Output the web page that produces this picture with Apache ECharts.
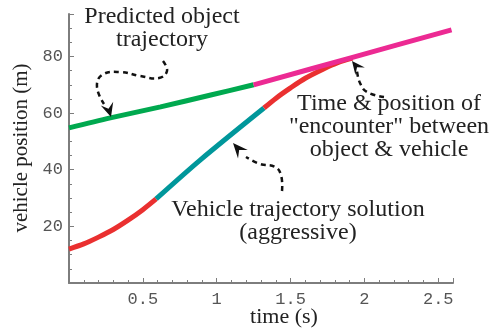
<!DOCTYPE html>
<html>
<head>
<meta charset="utf-8">
<script src="https://cdn.jsdelivr.net/npm/echarts@6/dist/echarts.min.js"></script>
<style>html,body{margin:0;padding:0;background:#fff;}#c{width:499px;height:333px;}</style>
</head>
<body>
<div id="c"></div>
<script>
// Predicted object trajectory (green part, then magenta part)
var objGreenT = [0, 0.28, 0.62, 0.96, 1.25];
var objGreenP = [54.8, 58.3, 62.2, 66.4, 70.0];
var objMagentaT = [1.25, 1.92, 2.59];
var objMagentaP = [70.0, 79.7, 89.4];
// Vehicle trajectory solution (red, teal, red)
var vehRed1T = [0, 0.1, 0.2, 0.3, 0.4, 0.5, 0.59];
var vehRed1P = [12.0, 13.8, 16.2, 18.9, 22.2, 25.9, 29.7];
var vehTealT = [0.59, 0.89, 1.32];
var vehTealP = [29.7, 43.5, 61.8];
var vehRed2T = [1.32, 1.4, 1.5, 1.6, 1.72, 1.82, 1.92];
var vehRed2P = [61.8, 65.2, 68.9, 72.3, 75.5, 77.8, 79.4];
// Axis ticks
var xTickLabels = ['0.5', '1', '1.5', '2', '2.5'];
var yTickLabels = ['20', '40', '60', '80'];

function pairs(t, p) { return t.map(function (v, i) { return [v, p[i]]; }); }

var GREEN = '#00a94f', MAGENTA = '#ec2a93', TEAL = '#00979b', RED = '#ea3030';
var AXIS = '#7d7d7d';
var SERIF = '"Liberation Serif", "Times New Roman", serif';
var MONO = '"Liberation Mono", "Courier New", monospace';

function lineSeries(t, p, color) {
  return {
    type: 'line', data: pairs(t, p), smooth: 0.3, showSymbol: false, symbol: 'none',
    lineStyle: { color: color, width: 5, cap: 'butt' }, silent: true, clip: false
  };
}

function arrowHead(tip, dir, L, W) {
  var n = Math.sqrt(dir[0] * dir[0] + dir[1] * dir[1]);
  var d = [dir[0] / n, dir[1] / n];
  var q = [-d[1], d[0]];
  var bx = tip[0] - L * d[0], by = tip[1] - L * d[1];
  var nx = tip[0] - 0.62 * L * d[0], ny = tip[1] - 0.62 * L * d[1];
  return {
    type: 'polygon',
    shape: { points: [tip, [bx + W * q[0], by + W * q[1]], [nx, ny], [bx - W * q[0], by - W * q[1]]] },
    style: { fill: '#111' }, z: 100
  };
}
function dashed(points) {
  return {
    type: 'polyline', shape: { points: points, smooth: 0.45 },
    style: { stroke: '#111', lineWidth: 2.5, lineDash: [5, 4], fill: null }, z: 100
  };
}
function label(x, y, txt) {
  return {
    type: 'text', x: x, y: y, z: 100,
    style: { text: txt, font: '24px ' + SERIF, fill: '#222', align: 'center', verticalAlign: 'top', lineHeight: 23 }
  };
}

var chart = echarts.init(document.getElementById('c'), null, { renderer: 'canvas' });
chart.setOption({
  animation: false,
  backgroundColor: '#fff',
  grid: { left: 69, right: 46, top: 14, bottom: 50, containLabel: false },
  xAxis: {
    type: 'value', min: 0, max: 2.6, interval: 0.5,
    axisLine: { show: true, onZero: false, lineStyle: { color: AXIS, width: 2 } },
    axisTick: { show: true, inside: true, length: 5, lineStyle: { color: AXIS, width: 1 } },
    minorTick: { show: true, splitNumber: 5, length: 3, lineStyle: { color: AXIS, width: 1 } },
    splitLine: { show: false },
    axisLabel: {
      margin: 8, color: '#555', fontFamily: MONO, fontSize: 17,
      formatter: function (v) { var s = String(Math.round(v * 10) / 10); return xTickLabels.indexOf(s) >= 0 ? s : ''; }
    }
  },
  yAxis: {
    type: 'value', min: 0, max: 95, interval: 20,
    axisLine: { show: true, onZero: false, lineStyle: { color: AXIS, width: 2 } },
    axisTick: { show: true, inside: true, length: 5, lineStyle: { color: AXIS, width: 1 } },
    minorTick: { show: true, splitNumber: 4, length: 3, lineStyle: { color: AXIS, width: 1 } },
    splitLine: { show: false },
    axisLabel: {
      margin: 6, color: '#555', fontFamily: MONO, fontSize: 17,
      formatter: function (v) { var s = String(Math.round(v)); return yTickLabels.indexOf(s) >= 0 ? s : ''; }
    }
  },
  series: [
    lineSeries(vehRed1T, vehRed1P, RED),
    lineSeries(vehTealT, vehTealP, TEAL),
    lineSeries(vehRed2T, vehRed2P, RED),
    lineSeries(objGreenT, objGreenP, GREEN),
    lineSeries(objMagentaT, objMagentaP, MAGENTA)
  ],
  graphic: [
    { type: 'text', x: 284, y: 306, z: 100,
      style: { text: 'time (s)', font: '22px ' + SERIF, fill: '#222', align: 'center', verticalAlign: 'top' } },
    { type: 'text', x: 11, y: 148, rotation: Math.PI / 2, z: 100,
      style: { text: 'vehicle position (m)', font: '21px ' + SERIF, fill: '#222', align: 'center', verticalAlign: 'top' } },
    label(162, 5, 'Predicted object\ntrajectory'),
    label(389, 92, 'Time & position of\n"encounter" between\nobject & vehicle'),
    label(298, 198, 'Vehicle trajectory solution\n(aggressive)'),
    dashed([[163, 61], [167, 71], [159, 78], [140, 76], [120, 72], [102, 75], [97, 87], [104, 104]]),
    arrowHead([111, 117], [0.3, 1], 14, 6.5),
    dashed([[384, 97], [367, 92], [360, 83], [357, 71]]),
    arrowHead([352, 61], [-0.62, -0.78], 13, 6),
    dashed([[282, 191], [281, 175], [275, 167], [260, 164], [246, 157]]),
    arrowHead([233, 143], [-0.66, -0.75], 15, 6.5)
  ]
});
</script>
</body>
</html>
